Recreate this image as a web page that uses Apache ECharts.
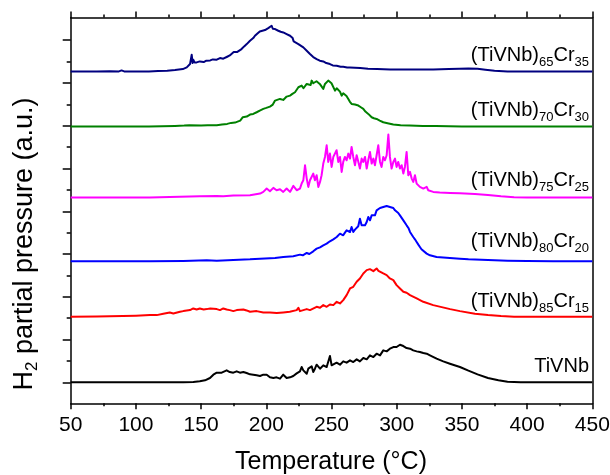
<!DOCTYPE html>
<html><head><meta charset="utf-8">
<script src="https://cdn.jsdelivr.net/npm/echarts@6/dist/echarts.min.js"></script>
<style>html,body{margin:0;padding:0;background:#fff}#c{width:610px;height:475px}</style>
</head><body><div id="c"></div>
<script>
// Temperature axis
const xMin = 50, xMax = 450, xStep = 50;
// Stacked curves: [temperature °C, signal (arbitrary units above own baseline)]
const seriesNames = ['(TiVNb)65Cr35','(TiVNb)70Cr30','(TiVNb)75Cr25','(TiVNb)80Cr20','(TiVNb)85Cr15','TiVNb'];
const seriesLabels = ['(TiVNb){s|65}Cr{s|35}','(TiVNb){s|70}Cr{s|30}','(TiVNb){s|75}Cr{s|25}','(TiVNb){s|80}Cr{s|20}','(TiVNb){s|85}Cr{s|15}','TiVNb'];
const offsets = [7.27, 5.98, 4.32, 2.83, 1.533, 0];
const signalScale = 1/128.4;

const cr35 = [[50,0],[60,0],[70,0],[80,0.5],[87,0],[89,3],[91,0],[100,0],[110,0],[117,1],[124,2],[130,4],[136,7],[139,12],[141.5,22],[142,20],[142.8,50],[143.5,25],[144,35],[145,27],[146.6,27],[149,30],[152,28],[154,32],[157,33],[159,36],[162,35],[164.5,40],[167,38],[170,44],[172,48],[173.4,54],[175,58],[176,62],[177.5,58],[178.5,64],[181,67],[183,75],[185,82],[187.5,92],[190,100],[191.3,107],[193,113],[195,120],[197,122],[199,124],[200,128],[201.5,130],[203,127],[204.1,137],[205,128],[206.7,127],[208,124],[209.2,122],[211,119],[213,117],[215.6,112],[217,110],[218.2,107],[219,112],[220.2,100],[221,90],[222,87],[224.6,82],[226,78],[228.4,72],[231,62],[233.5,52],[236,43],[238.6,37],[241,32],[243.7,30],[246,25],[248.8,22],[251,18],[254,17],[257,14],[259,14],[262,12],[264,12],[268,11],[272,10],[278,8],[285,7],[295,6],[305,6],[315,6],[328,6],[340,7],[348,8],[355,9],[362,8],[368,5],[375,2],[385,0],[400,0],[450,0]];

const cr30 = [[50,0],[100,0],[110,0],[120,1],[130,2],[137,3],[141,4],[150,3],[155,4],[162,4],[166,6],[170,8],[173,11],[176,12],[180,18],[182,28],[185,30],[187.5,36],[190,38],[192.6,43],[195,48],[197.7,53],[200,56],[202.8,60],[205,66],[206.7,78],[208,80],[210.5,83],[213,80],[215.6,90],[218.2,93],[220,98],[222,103],[224.6,118],[226,112],[227.1,123],[228.5,115],[229.7,120],[231,128],[232.2,133],[234,125],[234.8,138],[236,130],[237.3,128],[238.5,136],[239.9,138],[241,128],[242.4,133],[243.7,113],[245,128],[246.3,132],[247.5,138],[248.8,143],[250,130],[251.4,128],[252.7,108],[254,115],[255.2,118],[256.5,105],[257.8,93],[259,100],[260.3,103],[261.5,92],[262.9,83],[264,75],[265.4,68],[268,66],[270.6,63],[272.5,58],[274.4,53],[276,45],[278.2,38],[280.8,28],[282.5,25],[284.6,23],[287,18],[289.7,13],[293,10],[297.4,6],[303,4],[310,3],[320,2],[330,2],[340,1],[350,0],[400,0],[450,0]];

const cr25 = [[50,0],[80,0],[100,0],[110.8,0],[126,2],[141.5,3],[149,4],[162,5],[167,4],[174.7,6],[187.5,7],[195.2,12],[197.7,17],[200.3,27],[202.8,19],[205.4,29],[207.9,22],[210.5,25],[213,17],[215.6,27],[218.2,17],[220.7,35],[223.3,22],[225.8,27],[227.1,42],[228.4,52],[229.7,97],[231,57],[232.2,32],[233.5,52],[236,72],[237.3,52],[238.6,67],[239.9,32],[241.2,47],[242.4,67],[243.7,102],[245,122],[246.3,157],[247.5,107],[248.8,132],[250.1,92],[251.4,122],[252.7,117],[253.9,142],[255.2,107],[256.5,122],[257.8,77],[259,107],[260.3,122],[261.6,112],[262.9,132],[264.2,117],[265.4,152],[266.7,122],[268,97],[269.3,127],[270.6,107],[271.8,87],[273.1,117],[274.4,107],[275.7,122],[277,87],[278.2,112],[279.5,137],[280.8,102],[282.1,117],[283.3,97],[284.6,127],[285.9,157],[287.2,107],[288.4,92],[289.7,122],[291,112],[292.3,127],[293.6,189],[294.8,122],[296.1,87],[297.4,107],[298.7,117],[299.9,92],[301.2,107],[302.5,87],[303.8,97],[305.1,72],[306.3,92],[307.6,137],[308.9,67],[310.2,77],[311.5,57],[312.7,47],[314,67],[315.3,42],[316.6,37],[317.8,32],[319.1,27],[320.4,27],[321.7,22],[323,32],[324.2,22],[325.5,19],[328,17],[333,15],[341,14],[348.5,13],[360,11],[370,8],[380,4],[390,1],[400,0],[450,0]];

const cr20 = [[50,0],[100,0],[110.8,0],[136.4,1],[154.3,3],[162,2],[174.7,4],[187.5,6],[195.2,8],[206.7,10],[208,13],[213,13],[220.7,15],[225.8,20],[228,18],[231,25],[233,22],[236,30],[238.6,38],[240,34],[241.2,42],[243.7,48],[245,44],[246.3,53],[248.8,60],[250,55],[251.4,66],[254,73],[255,68],[256.5,83],[259,78],[260.3,86],[261.6,93],[264.2,88],[265.4,103],[266.7,88],[268,95],[269.3,98],[270.5,105],[271.8,128],[273.1,108],[274.4,113],[275.7,108],[277,118],[278.2,133],[279.5,123],[280.8,138],[282.1,143],[283.3,138],[284.6,153],[286,148],[287.2,160],[288.5,155],[289.7,163],[291,158],[292.3,166],[293.6,160],[294.8,163],[296,158],[297.4,160],[298.7,153],[299.9,148],[301.2,145],[302.5,138],[303.8,132],[305.1,123],[306.3,118],[307.6,108],[309,100],[310.2,88],[311.5,82],[312.7,73],[314,66],[315.3,58],[316.6,50],[317.8,43],[319,36],[320.4,30],[323,23],[325.5,18],[330.6,13],[340.8,10],[348.5,8],[355,6],[370,4],[385,2],[400,1],[420,0],[450,0]];

const cr15 = [[50,0],[70,1],[90,2],[100,3],[110.8,5],[116,5],[121,9],[126,13],[128.7,10],[133.8,15],[136.4,17],[141.5,20],[144,25],[146.6,22],[149,25],[152,22],[154.3,23],[157,25],[162,23],[164.5,20],[167,25],[169.6,22],[172,20],[174.7,17],[177.3,20],[182.4,22],[184.9,19],[187.5,15],[192.6,17],[197.7,13],[202.8,13],[208,11],[213,13],[218,15],[223.3,20],[224.6,27],[225.8,17],[231,23],[233.5,20],[238.6,30],[241.2,27],[243.7,35],[246.3,30],[248.8,37],[251.4,35],[254,45],[256.5,40],[259,50],[261.6,65],[264.2,85],[266.7,90],[269.3,105],[271.8,115],[274.4,130],[277,140],[278.2,135],[279.5,143],[280.8,148],[282.1,137],[283.3,142],[284.6,145],[286,138],[287.2,140],[289.7,130],[291,133],[292.3,125],[294.8,115],[296,118],[297.4,110],[299.9,95],[302.5,85],[305.1,75],[307.6,72],[310.2,65],[315.3,55],[320.4,45],[328,35],[341,23],[348.5,17],[360,9],[370,5],[380,2],[390,0],[450,0]];

const tivnb = [[50,0],[110.8,0],[136.4,0],[144,1],[149,3],[153,6],[156.8,13],[159.4,23],[162,29],[165.8,29],[169.6,36],[172,31],[174.7,29],[177.3,33],[179.8,29],[182.4,31],[184.9,28],[187.5,24],[190,23],[192.6,21],[195.2,19],[197.7,23],[199,29],[200.3,23],[202.8,15],[205.4,13],[207.9,15],[210.5,11],[213,23],[214.3,19],[215.6,13],[218.2,15],[220.7,19],[223.3,27],[225.8,33],[227.1,46],[228.4,36],[231,26],[232.2,41],[233.5,36],[234.8,48],[236,31],[237.3,41],[238.6,53],[241.2,41],[243.7,51],[246.3,46],[248.8,79],[250.1,51],[251.4,56],[253.9,59],[256.5,53],[259,63],[261.6,59],[264.2,66],[266.7,61],[269.3,69],[271.8,63],[274.4,73],[277,69],[279.5,81],[282.1,76],[284.6,86],[287.2,81],[289.7,96],[292.3,93],[294.8,101],[297.4,106],[299.9,106],[302.5,113],[305.1,109],[307.6,103],[310.2,101],[312.7,96],[315.3,93],[317.8,91],[320.4,88],[323,86],[325.5,81],[330.6,71],[335.7,63],[340.8,56],[348.5,46],[355,35],[362,24],[370,13],[378,6],[385,2],[395,0],[450,0]];

const allData = [cr35, cr30, cr25, cr20, cr15, tivnb];
const colors = ['#000080','#008000','#ff00ff','#0000ff','#ff0000','#000000'];
const majorY = [0,1,2,3,4,5,6,7,8];
const minorY = [0.5,1.5,2.5,3.5,4.5,5.5,6.5,7.5];

const FF = 'Liberation Sans, Arial, sans-serif';
const yMin = -0.49, yMax = 8.53;
const labelY = [55, 110, 180, 241, 301, 366];

const chart = echarts.init(document.getElementById('c'));
const axLine = {show:true, onZero:false, lineStyle:{color:'#000', width:1.5}};
const tickStyle = {color:'#000', width:1.5};
chart.setOption({
  animation:false,
  backgroundColor:'#fff',
  grid:{left:70.7, right:17.7, top:17.5, bottom:71.7, containLabel:false, outerBoundsMode:'none'},
  xAxis:[
    {type:'value', position:'bottom', min:xMin, max:xMax, interval:xStep,
     axisLine:axLine, axisTick:{show:true, inside:false, length:6, lineStyle:tickStyle},
     minorTick:{show:true, splitNumber:2, length:3, lineStyle:tickStyle},
     axisLabel:{show:true, fontSize:21, color:'#000', fontFamily:FF, margin:11},
     splitLine:{show:false}, minorSplitLine:{show:false}},
    {type:'value', position:'top', min:xMin, max:xMax, interval:xStep,
     axisLine:axLine, axisTick:{show:true, inside:false, length:6, lineStyle:tickStyle},
     minorTick:{show:true, splitNumber:2, length:3, lineStyle:tickStyle},
     axisLabel:{show:false}, splitLine:{show:false}, minorSplitLine:{show:false}}
  ],
  yAxis:[
    {type:'value', position:'left', min:yMin, max:yMax,
     axisLine:axLine, axisTick:{show:true, inside:false, length:8, customValues:majorY, lineStyle:tickStyle},
     axisLabel:{show:false}, splitLine:{show:false}},
    {type:'value', position:'left', min:yMin, max:yMax,
     axisLine:{show:false}, axisTick:{show:true, inside:false, length:4, customValues:minorY, lineStyle:tickStyle},
     axisLabel:{show:false}, splitLine:{show:false}},
    {type:'value', position:'right', min:yMin, max:yMax,
     axisLine:axLine, axisTick:{show:false}, axisLabel:{show:false}, splitLine:{show:false}}
  ],
  series: allData.map((d, i) => ({
    name: seriesNames[i], type:'line', xAxisIndex:0, yAxisIndex:0,
    showSymbol:false, symbol:'none', smooth:false,
    lineStyle:{color:colors[i], width:2, join:'round'},
    data: d.map(p => [p[0], offsets[i] + p[1]*signalScale])
  })),
  graphic: [
    ...seriesLabels.map((t, i) => ({
      type:'text', x:589, y:labelY[i], silent:true,
      style:{text:t, fill:'#000', fontSize:20, fontFamily:FF, lineHeight:27, align:'right', verticalAlign:'middle',
        rich:{s:{fontSize:13, fontFamily:FF, lineHeight:13, verticalAlign:'bottom', fill:'#000'}}}
    })),
    {type:'text', x:25, y:244, rotation:Math.PI/2, silent:true,
     style:{text:'H{s|2} partial pressure (a.u.)', fill:'#000', fontSize:27, fontFamily:FF, lineHeight:31, align:'center', verticalAlign:'middle',
       rich:{s:{fontSize:17, fontFamily:FF, lineHeight:14, verticalAlign:'bottom', fill:'#000'}}}},
    {type:'text', x:331, y:462, silent:true,
     style:{text:'Temperature (°C)', fill:'#000', fontSize:25, fontFamily:FF, align:'center', verticalAlign:'middle'}}
  ]
});
</script></body></html>
